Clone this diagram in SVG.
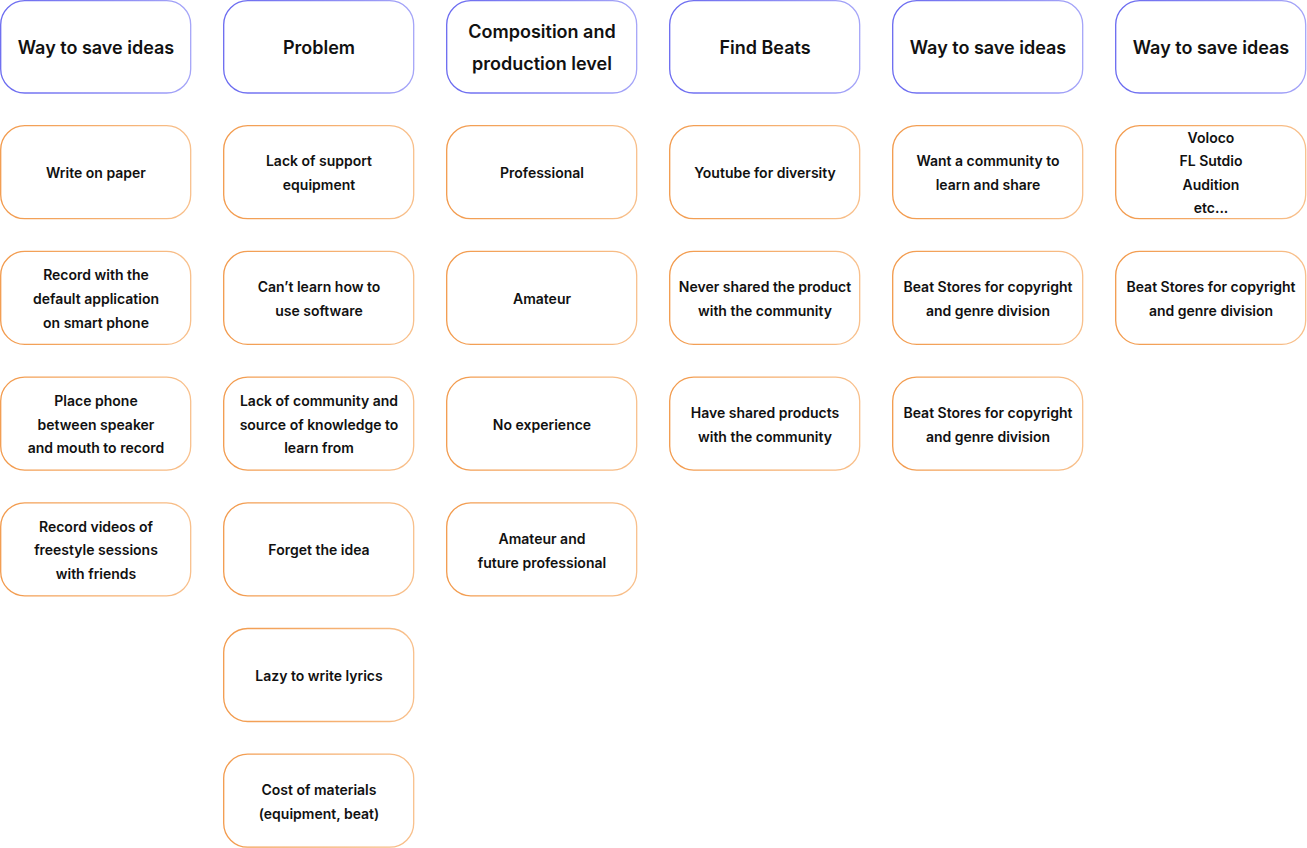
<svg xmlns="http://www.w3.org/2000/svg" width="1307" height="848" viewBox="0 0 1307 848">
<style>
.h{fill:#fff;stroke:url(#gb);stroke-width:1.3}
.b{fill:#fff;stroke:url(#go);stroke-width:1.3}
.ht{font-family:Inter,"Noto Sans",sans-serif;font-size:18px;font-weight:600;fill:#111;text-anchor:middle;dominant-baseline:central}
.bt{font-family:Inter,"Noto Sans",sans-serif;font-size:14px;font-weight:600;fill:#111;text-anchor:middle;dominant-baseline:central}
</style>
<defs>
<linearGradient id="gb" x1="0" y1="0" x2="1" y2="0"><stop offset="0" stop-color="#6a6af0"/><stop offset="1" stop-color="#a5a5f8"/></linearGradient>
<linearGradient id="go" x1="0" y1="0" x2="1" y2="0"><stop offset="0" stop-color="#f29a4c"/><stop offset="1" stop-color="#f8c08c"/></linearGradient>
</defs>
<rect width="1307" height="848" fill="#fff"/>
<g id="headers">
<g id="h1"><rect class="h" x="0.7" y="0.7" width="190" height="92.3" rx="24"/><text class="ht" x="96" y="47">Way to save ideas</text></g>
<g id="h2"><rect class="h" x="223.7" y="0.7" width="190" height="92.3" rx="24"/><text class="ht" x="319" y="47">Problem</text></g>
<g id="h3"><rect class="h" x="446.7" y="0.7" width="190" height="92.3" rx="24"/><text class="ht" x="542" y="31">Composition and</text><text class="ht" x="542" y="63">production level</text></g>
<g id="h4"><rect class="h" x="669.7" y="0.7" width="190" height="92.3" rx="24"/><text class="ht" x="765" y="47">Find Beats</text></g>
<g id="h5"><rect class="h" x="892.7" y="0.7" width="190" height="92.3" rx="24"/><text class="ht" x="988" y="47">Way to save ideas</text></g>
<g id="h6"><rect class="h" x="1115.7" y="0.7" width="190" height="92.3" rx="24"/><text class="ht" x="1211" y="47">Way to save ideas</text></g>
</g>
<g id="col1">
<g id="n1a"><rect class="b" x="0.7" y="125.7" width="190" height="93" rx="24"/><text class="bt" x="96" y="172">Write on paper</text></g>
<g id="n1b"><rect class="b" x="0.7" y="251.4" width="190" height="93" rx="24"/><text class="bt" x="96" y="274">Record with the</text><text class="bt" x="96" y="298">default application</text><text class="bt" x="96" y="322">on smart phone</text></g>
<g id="n1c"><rect class="b" x="0.7" y="377.1" width="190" height="93" rx="24"/><text class="bt" x="96" y="400">Place phone</text><text class="bt" x="96" y="424">between speaker</text><text class="bt" x="96" y="447">and mouth to record</text></g>
<g id="n1d"><rect class="b" x="0.7" y="502.8" width="190" height="93" rx="24"/><text class="bt" x="96" y="526">Record videos of</text><text class="bt" x="96" y="549">freestyle sessions</text><text class="bt" x="96" y="573">with friends</text></g>
</g>
<g id="col2">
<g id="n2a"><rect class="b" x="223.7" y="125.7" width="190" height="93" rx="24"/><text class="bt" x="319" y="160">Lack of support</text><text class="bt" x="319" y="184">equipment</text></g>
<g id="n2b"><rect class="b" x="223.7" y="251.4" width="190" height="93" rx="24"/><text class="bt" x="319" y="286">Can’t learn how to</text><text class="bt" x="319" y="310">use software</text></g>
<g id="n2c"><rect class="b" x="223.7" y="377.1" width="190" height="93" rx="24"/><text class="bt" x="319" y="400">Lack of community and</text><text class="bt" x="319" y="424">source of knowledge to</text><text class="bt" x="319" y="447">learn from</text></g>
<g id="n2d"><rect class="b" x="223.7" y="502.8" width="190" height="93" rx="24"/><text class="bt" x="319" y="549">Forget the idea</text></g>
<g id="n2e"><rect class="b" x="223.7" y="628.5" width="190" height="93" rx="24"/><text class="bt" x="319" y="675">Lazy to write lyrics</text></g>
<g id="n2f"><rect class="b" x="223.7" y="754.2" width="190" height="93" rx="24"/><text class="bt" x="319" y="789">Cost of materials</text><text class="bt" x="319" y="813">(equipment, beat)</text></g>
</g>
<g id="col3">
<g id="n3a"><rect class="b" x="446.7" y="125.7" width="190" height="93" rx="24"/><text class="bt" x="542" y="172">Professional</text></g>
<g id="n3b"><rect class="b" x="446.7" y="251.4" width="190" height="93" rx="24"/><text class="bt" x="542" y="298">Amateur</text></g>
<g id="n3c"><rect class="b" x="446.7" y="377.1" width="190" height="93" rx="24"/><text class="bt" x="542" y="424">No experience</text></g>
<g id="n3d"><rect class="b" x="446.7" y="502.8" width="190" height="93" rx="24"/><text class="bt" x="542" y="538">Amateur and</text><text class="bt" x="542" y="562">future professional</text></g>
</g>
<g id="col4">
<g id="n4a"><rect class="b" x="669.7" y="125.7" width="190" height="93" rx="24"/><text class="bt" x="765" y="172">Youtube for diversity</text></g>
<g id="n4b"><rect class="b" x="669.7" y="251.4" width="190" height="93" rx="24"/><text class="bt" x="765" y="286">Never shared the product</text><text class="bt" x="765" y="310">with the community</text></g>
<g id="n4c"><rect class="b" x="669.7" y="377.1" width="190" height="93" rx="24"/><text class="bt" x="765" y="412">Have shared products</text><text class="bt" x="765" y="436">with the community</text></g>
</g>
<g id="col5">
<g id="n5a"><rect class="b" x="892.7" y="125.7" width="190" height="93" rx="24"/><text class="bt" x="988" y="160">Want a community to</text><text class="bt" x="988" y="184">learn and share</text></g>
<g id="n5b"><rect class="b" x="892.7" y="251.4" width="190" height="93" rx="24"/><text class="bt" x="988" y="286">Beat Stores for copyright</text><text class="bt" x="988" y="310">and genre division</text></g>
<g id="n5c"><rect class="b" x="892.7" y="377.1" width="190" height="93" rx="24"/><text class="bt" x="988" y="412">Beat Stores for copyright</text><text class="bt" x="988" y="436">and genre division</text></g>
</g>
<g id="col6">
<g id="n6a"><rect class="b" x="1115.7" y="125.7" width="190" height="93" rx="24"/><text class="bt" x="1211" y="137">Voloco</text><text class="bt" x="1211" y="160">FL Sutdio</text><text class="bt" x="1211" y="184">Audition</text><text class="bt" x="1211" y="207">etc...</text></g>
<g id="n6b"><rect class="b" x="1115.7" y="251.4" width="190" height="93" rx="24"/><text class="bt" x="1211" y="286">Beat Stores for copyright</text><text class="bt" x="1211" y="310">and genre division</text></g>
</g>
<g id="connectors"/>
</svg>
